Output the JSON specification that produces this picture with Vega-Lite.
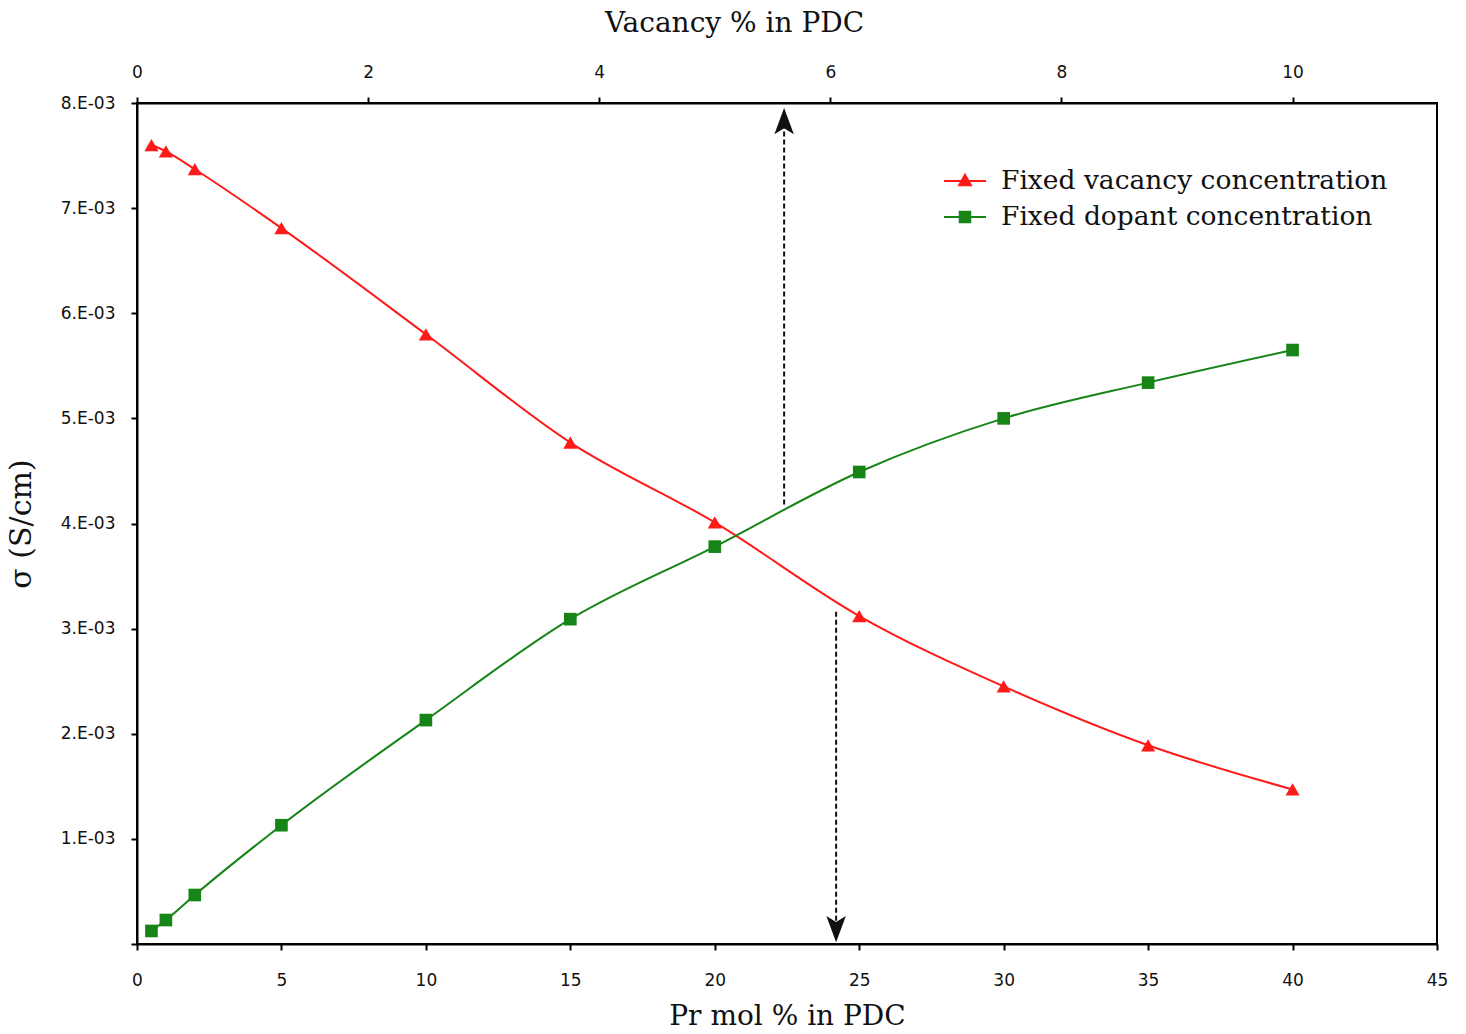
{
  "$schema": "https://vega.github.io/schema/vega-lite/v6.json",
  "width": 1300,
  "height": 841,
  "autosize": {"type": "none"},
  "padding": {"left": 137, "top": 103, "right": 29, "bottom": 90},
  "background": "white",
  "config": {
    "view": {"stroke": "black", "strokeWidth": 2},
    "axis": {
      "domainColor": "black",
      "domainWidth": 2,
      "tickColor": "black",
      "tickWidth": 2,
      "tickSize": 6,
      "grid": false,
      "labelFlush": false,
      "labelFont": "DejaVu Sans",
      "labelFontSize": 17,
      "labelColor": "#111111",
      "titleFont": "DejaVu Serif",
      "titleFontWeight": "normal",
      "titleFontSize": 28,
      "titleColor": "#111111"
    }
  },
  "datasets": {
    "series": [
      {"x": 0.5, "sigma": 0.00760, "series": "Fixed vacancy concentration"},
      {"x": 1, "sigma": 0.00754, "series": "Fixed vacancy concentration"},
      {"x": 2, "sigma": 0.00737, "series": "Fixed vacancy concentration"},
      {"x": 5, "sigma": 0.00681, "series": "Fixed vacancy concentration"},
      {"x": 10, "sigma": 0.00580, "series": "Fixed vacancy concentration"},
      {"x": 15, "sigma": 0.00477, "series": "Fixed vacancy concentration"},
      {"x": 20, "sigma": 0.00401, "series": "Fixed vacancy concentration"},
      {"x": 25, "sigma": 0.00312, "series": "Fixed vacancy concentration"},
      {"x": 30, "sigma": 0.00245, "series": "Fixed vacancy concentration"},
      {"x": 35, "sigma": 0.00189, "series": "Fixed vacancy concentration"},
      {"x": 40, "sigma": 0.00147, "series": "Fixed vacancy concentration"},
      {"x": 0.5, "sigma": 0.000124, "series": "Fixed dopant concentration"},
      {"x": 1, "sigma": 0.000228, "series": "Fixed dopant concentration"},
      {"x": 2, "sigma": 0.000466, "series": "Fixed dopant concentration"},
      {"x": 5, "sigma": 0.00113, "series": "Fixed dopant concentration"},
      {"x": 10, "sigma": 0.00213, "series": "Fixed dopant concentration"},
      {"x": 15, "sigma": 0.00309, "series": "Fixed dopant concentration"},
      {"x": 20, "sigma": 0.00378, "series": "Fixed dopant concentration"},
      {"x": 25, "sigma": 0.00449, "series": "Fixed dopant concentration"},
      {"x": 30, "sigma": 0.00500, "series": "Fixed dopant concentration"},
      {"x": 35, "sigma": 0.00534, "series": "Fixed dopant concentration"},
      {"x": 40, "sigma": 0.00565, "series": "Fixed dopant concentration"}
    ],
    "arrows": [
      {"x": 22.4, "from": 0.00418, "to": 0.0078, "tip": 0.00781, "dir": "up"},
      {"x": 24.2, "from": 0.00316, "to": 0.0002, "tip": 0.00016, "dir": "down"}
    ]
  },
  "layer": [
    {
      "data": {"name": "series"},
      "mark": {"type": "line", "interpolate": "monotone", "strokeWidth": 2},
      "encoding": {
        "x": {
          "field": "x", "type": "quantitative",
          "scale": {"domain": [0, 45], "nice": false},
          "axis": {"orient": "bottom", "values": [0, 5, 10, 15, 20, 25, 30, 35, 40, 45], "labelPadding": 22, "title": "Pr mol % in PDC", "titlePadding": 14}
        },
        "y": {
          "field": "sigma", "type": "quantitative",
          "scale": {"domain": [0, 0.008], "nice": false},
          "axis": {
            "values": [0, 0.001, 0.002, 0.003, 0.004, 0.005, 0.006, 0.007, 0.008],
            "labelExpr": "datum.value == 0 ? '' : format(round(datum.value * 1000), 'd') + '.E-03'",
            "labelPadding": 16,
            "title": "σ (S/cm)",
            "titleFontSize": 30,
            "titlePadding": 24
          }
        },
        "color": {
          "field": "series", "type": "nominal",
          "scale": {"domain": ["Fixed vacancy concentration", "Fixed dopant concentration"], "range": ["#ff1a1a", "#168416"]},
          "legend": {
            "title": null,
            "orient": "none",
            "legendX": 806,
            "legendY": 56,
            "labelFont": "DejaVu Serif",
            "labelFontSize": 26.5,
            "labelColor": "#111111",
            "labelLimit": 0,
            "labelOffset": 14,
            "symbolSize": 1764,
            "rowPadding": 0,
            "encode": {
              "symbols": {
                "update": {
                  "shape": {"signal": "datum.value == 'Fixed vacancy concentration' ? 'M-1,0H1M0,-0.3L0.28,0.2H-0.28Z' : 'M-1,0H1M-0.25,-0.25H0.25V0.25H-0.25Z'"},
                  "size": {"value": 1764},
                  "strokeWidth": {"value": 2},
                  "opacity": {"value": 1}
                }
              }
            }
          }
        }
      }
    },
    {
      "data": {"name": "series"},
      "transform": [{"filter": "datum.series == 'Fixed vacancy concentration'"}],
      "mark": {"type": "point", "filled": true, "opacity": 1, "shape": "triangle-up", "size": 200},
      "encoding": {
        "x": {"field": "x", "type": "quantitative", "axis": null},
        "y": {"field": "sigma", "type": "quantitative"},
        "color": {"field": "series", "type": "nominal"}
      }
    },
    {
      "data": {"name": "series"},
      "transform": [{"filter": "datum.series == 'Fixed dopant concentration'"}],
      "mark": {"type": "point", "filled": true, "opacity": 1, "shape": "square", "size": 160},
      "encoding": {
        "x": {"field": "x", "type": "quantitative", "axis": null},
        "y": {"field": "sigma", "type": "quantitative"},
        "color": {"field": "series", "type": "nominal"}
      }
    },
    {
      "data": {"name": "arrows"},
      "mark": {"type": "rule", "strokeDash": [5, 3], "strokeWidth": 2, "color": "#111111"},
      "encoding": {
        "x": {
          "field": "x", "type": "quantitative",
          "axis": {
            "orient": "top",
            "values": [0, 8, 16, 24, 32, 40],
            "labelExpr": "format(datum.value / 4, 'd')",
            "labelPadding": 16,
            "title": "Vacancy % in PDC",
            "titleX": 597,
            "titleAnchor": null,
            "titleAlign": "center",
            "titlePadding": 26
          }
        },
        "y": {"field": "from", "type": "quantitative"},
        "y2": {"field": "to"}
      }
    },
    {
      "data": {"name": "arrows"},
      "transform": [{"filter": "datum.dir == 'up'"}],
      "mark": {"type": "point", "filled": true, "opacity": 1, "color": "#111111", "size": 900, "shape": "M0,-1L0.65,0.75L0,0.35L-0.65,0.75Z"},
      "encoding": {
        "x": {"field": "x", "type": "quantitative", "axis": null},
        "y": {"field": "tip", "type": "quantitative"}
      }
    },
    {
      "data": {"name": "arrows"},
      "transform": [{"filter": "datum.dir == 'down'"}],
      "mark": {"type": "point", "filled": true, "opacity": 1, "color": "#111111", "size": 900, "shape": "M0,1L0.65,-0.75L0,-0.35L-0.65,-0.75Z"},
      "encoding": {
        "x": {"field": "x", "type": "quantitative", "axis": null},
        "y": {"field": "tip", "type": "quantitative"}
      }
    }
  ],
  "resolve": {"axis": {"x": "independent"}}
}
